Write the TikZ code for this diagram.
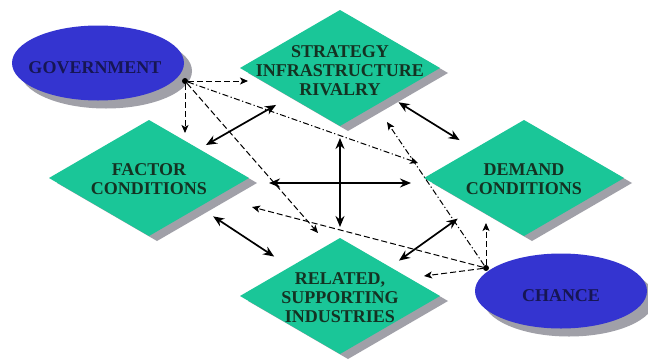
\documentclass[tikz,border=0pt]{standalone}
\usepackage{fontspec}
\setmainfont{Liberation Serif}[BoldFont={Liberation Serif Bold}]
\newfontfamily\porterfont{Liberation Serif Bold}
\usetikzlibrary{shapes.geometric, arrows.meta, shadows}
\definecolor{porterblue}{RGB}{52,52,208}
\definecolor{portergreen}{RGB}{26,198,152}
\definecolor{shadowgray}{RGB}{160,160,168}
\definecolor{inkgreen}{RGB}{20,50,34}
\definecolor{inknavy}{RGB}{22,22,84}

\begin{document}
\begin{tikzpicture}[
		x=1pt, y=-1pt,
		factor/.style={diamond, fill=portergreen, minimum width=200pt, minimum height=116pt,
			inner sep=0pt, outer sep=0pt,
			drop shadow={shadow xshift=8pt, shadow yshift=-5pt, fill=shadowgray, opacity=1}},
		actor/.style={ellipse, fill=porterblue, minimum width=172pt, minimum height=75pt,
			inner sep=0pt, outer sep=0pt,
			drop shadow={shadow xshift=8pt, shadow yshift=-8pt, fill=shadowgray, opacity=1}},
		ftext/.style={font=\porterfont\fontsize{18}{19}\selectfont, text=inkgreen, align=center},
		atext/.style={font=\porterfont\fontsize{18}{19}\selectfont, text=inknavy},
		dot/.style={circle, fill=black, inner sep=0pt, minimum size=6pt},
		link/.style={{Stealth[length=11pt,width=9pt]}-{Stealth[length=11pt,width=9pt]}, line width=1.7pt},
		infl/.style={-{Stealth[length=8pt,width=7pt,inset=2pt]}, line width=1pt, dash pattern=on 6pt off 3pt},
		infldot/.style={infl, dash pattern=on 6pt off 2.5pt on 1.2pt off 2.5pt}
	]
	\fill[white] (0,0) rectangle (648,362);
	\useasboundingbox (0,0) rectangle (648,362);

	% the four corners of the diamond
	\node[factor] (str) at (340,68) {};
	\node[factor] (fac) at (149,178) {};
	\node[factor] (dem) at (524,178) {};
	\node[factor] (rel) at (340,296) {};
	\node[ftext] (strtxt) at ([yshift=-3pt]str.center) {STRATEGY\\INFRASTRUCTURE\\RIVALRY};
	\node[ftext] (factxt) at ([yshift=-1pt]fac.center) {FACTOR\\CONDITIONS};
	\node[ftext] (demtxt) at ([yshift=-1pt]dem.center) {DEMAND\\CONDITIONS};
	\node[ftext] (reltxt) at ([yshift=-2pt]rel.center) {RELATED,\\SUPPORTING\\INDUSTRIES};

	% outside influences
	\node[actor] (gov) at (98,63) {};
	\node[actor] (cha) at (561,291) {};
	\node[atext] (govtxt) at ([shift={(-3,5)}]gov.center) {GOVERNMENT};
	\node[atext] (chatxt) at ([shift={(0,5)}]cha.center) {CHANCE};
	\node[dot] (gdot) at (185,81) {};
	\node[dot] (cdot) at (486,268) {};

	% mutual links
	\draw[link, shorten <=8pt, shorten >=16pt] (fac.north east) -- (str.south west);
	\draw[link, shorten <=10pt, shorten >=17pt] (str.south east) -- (dem.north west);
	\draw[link, shorten <=17pt, shorten >=19pt] (fac.south east) -- (rel.north west);
	\draw[link, shorten <=20pt, shorten >=11pt] (dem.south west) -- (rel.north east);
	\draw[link, shorten <=20pt, shorten >=13pt] ([yshift=-5pt]fac.east) -- ([yshift=-5pt]dem.west);
	\draw[link, shorten <=12pt, shorten >=11pt] (str.south) -- (rel.north);

	% government
	\draw[infl] (gdot) -- ([xshift=8pt]gdot -| str.west);
	\draw[infl] (gdot) -- ([yshift=-13pt]gdot |- fac.north);
	\draw[infldot] (gdot) -- ([shift={(-6,-15)}]dem.west);
	\draw[infl] (gdot) -- ([shift={(-22,-5)}]rel.north);

	% chance
	\draw[infl] (cdot) -- ([yshift=13pt]cdot |- dem.south);
	\draw[infl] (cdot) -- ([shift={(-16,-20)}]rel.east);
	\draw[infldot] (cdot) -- ([shift={(-3,25)}]str.south east);
	\draw[infl] (cdot) -- ([xshift=53pt]fac.south east);
\end{tikzpicture}
\end{document}
